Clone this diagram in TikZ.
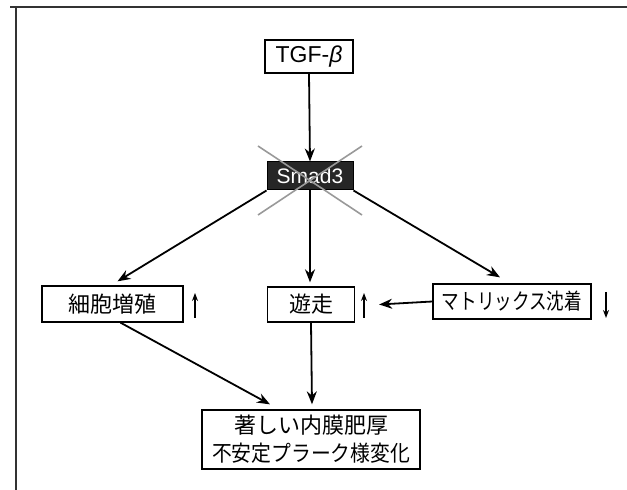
\documentclass[tikz,border=0pt]{standalone}
\usepackage{fontspec}
\usepackage{graphicx}
\setmainfont{Liberation Sans}
\newfontfamily\jp{Noto Sans CJK JP}
\usetikzlibrary{arrows.meta,calc}
\begin{document}
\begin{tikzpicture}[x=1pt,y=1pt,
  box/.style={draw=black,line width=1.3pt,fill=white,inner sep=0pt,font=\jp\fontsize{22}{26}\selectfont},
  conn/.style={line width=1.8pt,-{Stealth[length=13pt,width=10pt]}},
  small/.style={line width=1.5pt,-{Stealth[length=8pt,width=6pt]}}]
\useasboundingbox (0,0) rectangle (627,490);
% frame
\draw[line width=1.8pt,black!80] (10,483) -- (627,483);
\draw[line width=1.8pt,black!80] (16,483) -- (16,0);
% nodes
\node[box,minimum width=88pt,minimum height=33pt,font=\fontsize{23}{26}\selectfont] (tgf) at (309,433.5) {TGF-\textit{β}};
\node[draw=black,fill=black!85,line width=1pt,minimum width=86pt,minimum height=28pt,inner sep=0pt,text=white,font=\fontsize{21}{24}\selectfont] (smad) at (310,314) {Smad3};
\draw[black!40,line width=1.6pt] (258,344) -- (362,275);
\draw[black!40,line width=1.6pt] (362,344) -- (258,275);
\node[box,minimum width=141pt,minimum height=36pt] (cell) at (112.5,186) {細胞増殖};
\node[box,minimum width=87pt,minimum height=35pt] (mig) at (311,185.5) {遊走};
\node[box,minimum width=158pt,minimum height=35pt] (mat) at (512,188.5) {\scalebox{0.8}[1]{マトリックス沈着}};
\node[box,minimum width=218pt,minimum height=59pt,align=center,font=\jp\fontsize{22}{28}\selectfont] (bot) at (311,50.5) {著しい内膜肥厚\\\scalebox{0.9}[1]{不安定プラーク様変化}};
% small indicator arrows
\coordinate (c1a) at (195,172); \coordinate (c1b) at (195,197);
\coordinate (c2a) at (364,172); \coordinate (c2b) at (364,197);
\coordinate (c3a) at (606,198); \coordinate (c3b) at (606,172);
\draw[small] (c1a) -- (c1b);
\draw[small] (c2a) -- (c2b);
\draw[small] (c3a) -- (c3b);
% connectors
\draw[conn] (tgf.south) -- (smad.north);
\draw[conn] (smad.south west) -- ([xshift=5pt,yshift=4pt]cell.north);
\draw[conn] (smad.south) -- ([xshift=-1pt,yshift=4pt]mig.north);
\draw[conn] (smad.south east) -- ([xshift=-12pt,yshift=6pt]mat.north);
\draw[conn] (mat.west) -- ([xshift=24pt]mig.east);
\draw[conn] ([xshift=8pt]cell.south) -- ([xshift=-41pt,yshift=5pt]bot.north);
\draw[conn] (mig.south) -- ([xshift=1pt,yshift=5pt]bot.north);
\end{tikzpicture}
\end{document}
